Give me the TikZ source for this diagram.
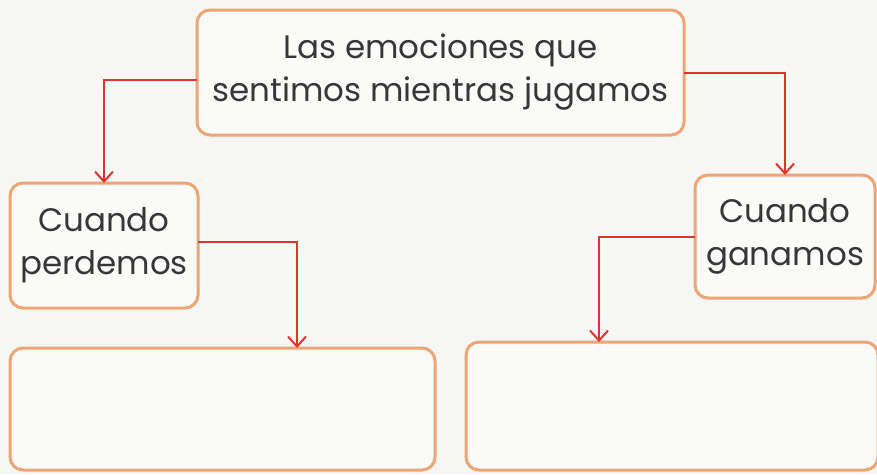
\documentclass[tikz,border=0pt]{standalone}
\usepackage{fontspec}
\setmainfont{Poppins}
\usetikzlibrary{arrows.meta}
\definecolor{bg}{RGB}{246,246,244}
\definecolor{boxfill}{RGB}{250,250,249}
\definecolor{boxline}{RGB}{236,165,115}
\definecolor{arrowred}{RGB}{222,52,48}
\definecolor{txt}{RGB}{55,55,55}
\tikzset{
  card/.style={draw=boxline, line width=3pt, fill=boxfill, rounded corners=13pt,
    outer sep=0pt, inner sep=0pt, align=center, text=txt,
    font=\fontsize{32.5}{43}\selectfont},
  conn/.style={draw=arrowred, line width=2pt,
    -{Straight Barb[length=10pt,width=18pt,line width=2pt]}}
}
\begin{document}
\begin{tikzpicture}[x=1pt,y=-1pt]
\fill[bg] (0,0) rectangle (877,474);
\useasboundingbox (0,0) rectangle (877,474);
\node[card, minimum width=487pt, minimum height=125pt] (top) at (440.5,72.5)
  {Las emociones que\\sentimos mientras jugamos};
\node[card, minimum width=188pt, minimum height=125pt] (lose) at (104,245.5)
  {Cuando\\perdemos};
\node[card, minimum width=180pt, minimum height=123pt] (win) at (785,236.5)
  {Cuando\\ganamos};
\node[card, minimum width=425pt, minimum height=122pt] (bl) at (222.5,409) {};
\node[card, minimum width=412pt, minimum height=128pt] (br) at (672,406) {};
\draw[conn] ([yshift=-7.5pt]top.west) -| (lose.north);
\draw[conn] (top.east) -| (win.north);
\draw[conn] ([yshift=3.5pt]lose.east) -| ([xshift=287pt]bl.north west);
\draw[conn] (win.west) -| ([xshift=133pt]br.north west);
\end{tikzpicture}
\end{document}
